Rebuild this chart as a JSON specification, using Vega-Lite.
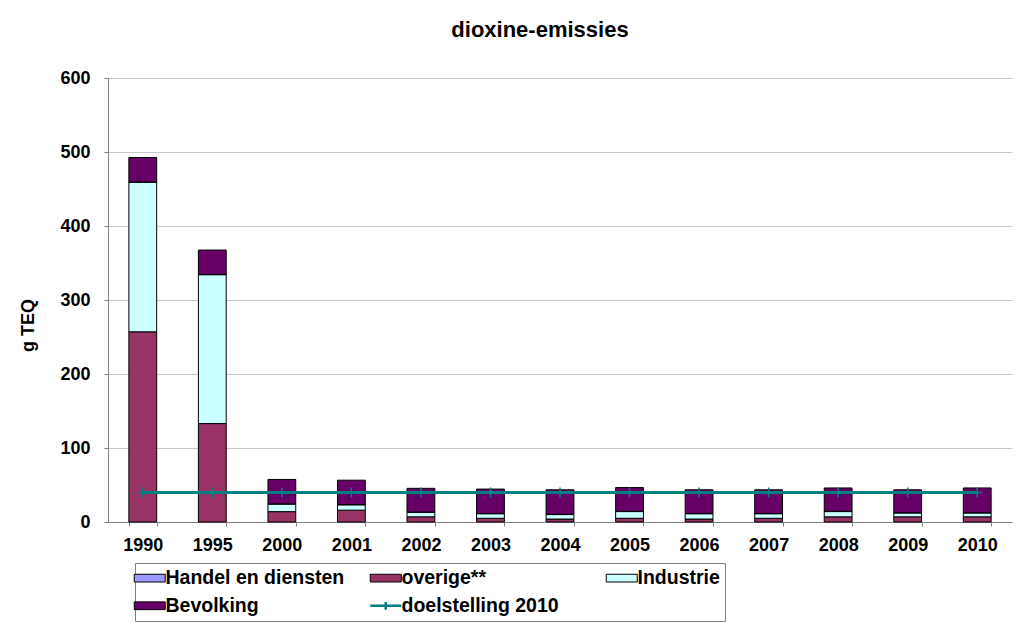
{
  "$schema": "https://vega.github.io/schema/vega-lite/v6.json",
  "width": 904,
  "height": 444,
  "autosize": {"type": "none"},
  "padding": {"left": 108, "top": 78, "right": 12, "bottom": 103},
  "background": "white",
  "view": {"stroke": null},
  "title": {
    "text": "dioxine-emissies",
    "font": "Liberation Sans",
    "fontSize": 22,
    "fontWeight": "bold",
    "color": "#000000",
    "anchor": "middle",
    "frame": "group",
    "dx": -20,
    "offset": 27
  },
  "datasets": {
    "emissions": [
      {"year": "1990", "series": "Handel en diensten", "value": 0.5},
      {"year": "1990", "series": "overige**", "value": 257},
      {"year": "1990", "series": "Industrie", "value": 202},
      {"year": "1990", "series": "Bevolking", "value": 33},
      {"year": "1995", "series": "Handel en diensten", "value": 0.5},
      {"year": "1995", "series": "overige**", "value": 133},
      {"year": "1995", "series": "Industrie", "value": 201},
      {"year": "1995", "series": "Bevolking", "value": 33},
      {"year": "2000", "series": "Handel en diensten", "value": 0.5},
      {"year": "2000", "series": "overige**", "value": 14},
      {"year": "2000", "series": "Industrie", "value": 10},
      {"year": "2000", "series": "Bevolking", "value": 33},
      {"year": "2001", "series": "Handel en diensten", "value": 0.5},
      {"year": "2001", "series": "overige**", "value": 16},
      {"year": "2001", "series": "Industrie", "value": 7},
      {"year": "2001", "series": "Bevolking", "value": 33},
      {"year": "2002", "series": "Handel en diensten", "value": 0.5},
      {"year": "2002", "series": "overige**", "value": 7},
      {"year": "2002", "series": "Industrie", "value": 6},
      {"year": "2002", "series": "Bevolking", "value": 32},
      {"year": "2003", "series": "Handel en diensten", "value": 0.5},
      {"year": "2003", "series": "overige**", "value": 5},
      {"year": "2003", "series": "Industrie", "value": 6},
      {"year": "2003", "series": "Bevolking", "value": 33},
      {"year": "2004", "series": "Handel en diensten", "value": 0.5},
      {"year": "2004", "series": "overige**", "value": 4},
      {"year": "2004", "series": "Industrie", "value": 6},
      {"year": "2004", "series": "Bevolking", "value": 33},
      {"year": "2005", "series": "Handel en diensten", "value": 0.5},
      {"year": "2005", "series": "overige**", "value": 5},
      {"year": "2005", "series": "Industrie", "value": 9},
      {"year": "2005", "series": "Bevolking", "value": 32},
      {"year": "2006", "series": "Handel en diensten", "value": 0.5},
      {"year": "2006", "series": "overige**", "value": 4},
      {"year": "2006", "series": "Industrie", "value": 7},
      {"year": "2006", "series": "Bevolking", "value": 32},
      {"year": "2007", "series": "Handel en diensten", "value": 0.5},
      {"year": "2007", "series": "overige**", "value": 5},
      {"year": "2007", "series": "Industrie", "value": 6},
      {"year": "2007", "series": "Bevolking", "value": 32},
      {"year": "2008", "series": "Handel en diensten", "value": 0.5},
      {"year": "2008", "series": "overige**", "value": 7},
      {"year": "2008", "series": "Industrie", "value": 7},
      {"year": "2008", "series": "Bevolking", "value": 31.5},
      {"year": "2009", "series": "Handel en diensten", "value": 0.5},
      {"year": "2009", "series": "overige**", "value": 7},
      {"year": "2009", "series": "Industrie", "value": 5},
      {"year": "2009", "series": "Bevolking", "value": 31},
      {"year": "2010", "series": "Handel en diensten", "value": 0.5},
      {"year": "2010", "series": "overige**", "value": 7},
      {"year": "2010", "series": "Industrie", "value": 5},
      {"year": "2010", "series": "Bevolking", "value": 33.5}
    ],
    "target": [
      {"year": "1990", "series": "doelstelling 2010", "value": 40},
      {"year": "1995", "series": "doelstelling 2010", "value": 40},
      {"year": "2000", "series": "doelstelling 2010", "value": 40},
      {"year": "2001", "series": "doelstelling 2010", "value": 40},
      {"year": "2002", "series": "doelstelling 2010", "value": 40},
      {"year": "2003", "series": "doelstelling 2010", "value": 40},
      {"year": "2004", "series": "doelstelling 2010", "value": 40},
      {"year": "2005", "series": "doelstelling 2010", "value": 40},
      {"year": "2006", "series": "doelstelling 2010", "value": 40},
      {"year": "2007", "series": "doelstelling 2010", "value": 40},
      {"year": "2008", "series": "doelstelling 2010", "value": 40},
      {"year": "2009", "series": "doelstelling 2010", "value": 40},
      {"year": "2010", "series": "doelstelling 2010", "value": 40}
    ]
  },
  "layer": [
    {
      "data": {"name": "emissions"},
      "mark": {"type": "bar", "stroke": "#000000", "strokeWidth": 1},
      "encoding": {
        "x": {
          "field": "year",
          "type": "nominal",
          "scale": {"paddingInner": 0.6, "paddingOuter": 0.3},
          "axis": {
            "title": null,
            "labelAngle": 0,
            "labelFont": "Liberation Sans",
            "labelFontSize": 18,
            "labelFontWeight": "bold",
            "labelColor": "#000000",
            "labelPadding": 10,
            "tickBand": "extent",
            "tickSize": 4,
            "tickColor": "#808080",
            "domainColor": "#808080",
            "grid": false
          }
        },
        "y": {
          "field": "value",
          "type": "quantitative",
          "stack": "zero",
          "scale": {"domain": [0, 600], "nice": false},
          "axis": {
            "title": "g TEQ",
            "values": [0, 100, 200, 300, 400, 500, 600],
            "labelFont": "Liberation Sans",
            "labelFontSize": 18,
            "labelFontWeight": "bold",
            "labelColor": "#000000",
            "labelPadding": 14,
            "tickSize": 4,
            "tickColor": "#808080",
            "domainColor": "#808080",
            "grid": true,
            "gridColor": "#c8c8c8",
            "titleFont": "Liberation Sans",
            "titleFontSize": 18,
            "titleFontWeight": "bold",
            "titleColor": "#000000",
            "titleX": -75,
            "titleY": 247,
            "titleAngle": 270,
            "titleAlign": "center",
            "titleBaseline": "alphabetic"
          }
        },
        "color": {
          "field": "series",
          "type": "nominal",
          "sort": ["Handel en diensten", "overige**", "Industrie", "Bevolking", "doelstelling 2010"],
          "scale": {
            "domain": ["Handel en diensten", "overige**", "Industrie", "Bevolking", "doelstelling 2010"],
            "range": ["#9999FF", "#993366", "#CCFFFF", "#660066", "#008080"]
          },
          "legend": {
            "title": null,
            "orient": "none",
            "legendX": 27,
            "legendY": 485,
            "direction": "horizontal",
            "columns": 3,
            "gridAlign": "all",
            "labelFont": "Liberation Sans",
            "labelFontSize": 19.5,
            "labelFontWeight": "bold",
            "labelColor": "#000000",
            "labelLimit": 400,
            "labelOffset": 6,
            "symbolSize": 961,
            "columnPadding": 20,
            "rowPadding": 7,
            "padding": 5,
            "strokeColor": "#808080",
            "symbolStrokeWidth": 1,
            "symbolStrokeColor": "#000000",
            "symbolOpacity": 1,
            "encoding": {
              "symbols": {
                "shape": {"value": {"expr": "datum.value === 'doelstelling 2010' ? 'M-1,0H1M0,-0.25V0.25' : 'M-1,-0.25H1V0.25H-1Z'"}},
                "fill": {"value": {"expr": "datum.value === 'doelstelling 2010' ? 'transparent' : scale('color', datum.value)"}},
                "stroke": {"value": {"expr": "datum.value === 'doelstelling 2010' ? '#008080' : '#000000'"}},
                "strokeWidth": {"value": {"expr": "datum.value === 'doelstelling 2010' ? 2.5 : 1"}}
              }
            }
          }
        }
      }
    },
    {
      "data": {"name": "target"},
      "mark": {"type": "line", "strokeWidth": 3, "color": "#008080"},
      "encoding": {
        "x": {"field": "year", "type": "nominal"},
        "y": {"field": "value", "type": "quantitative"}
      }
    },
    {
      "data": {"name": "target"},
      "mark": {"type": "point", "shape": "M-1,0H1M0,-1V1", "size": 100, "strokeWidth": 1.5, "filled": false, "opacity": 1, "color": "#008080"},
      "encoding": {
        "x": {"field": "year", "type": "nominal"},
        "y": {"field": "value", "type": "quantitative"}
      }
    }
  ]
}
